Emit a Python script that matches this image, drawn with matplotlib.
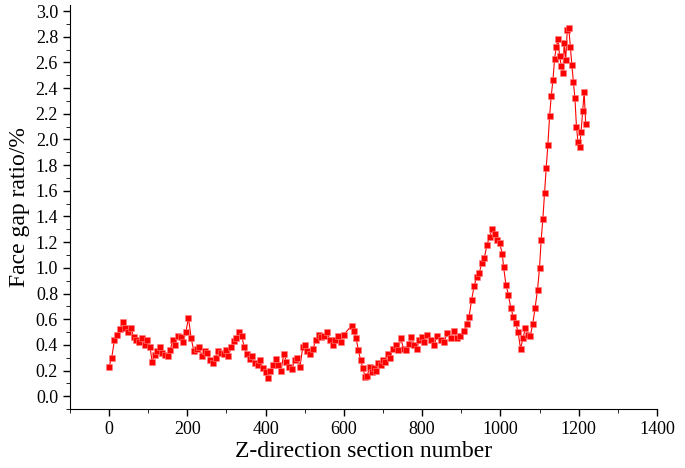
import numpy as np
import matplotlib
matplotlib.use("Agg")
import matplotlib.pyplot as plt
from matplotlib.ticker import MultipleLocator, FormatStrFormatter

# y values grouped by x span (start, end) of each group
groups = [
    ((0, 105), [0.23,0.30,0.44,0.48,0.52,0.58,0.53,0.50,0.53,0.46,0.44,0.42,0.45,0.40,0.44,0.38]),
    ((110, 203), [0.27,0.32,0.35,0.38,0.34,0.32,0.31,0.36,0.44,0.40,0.47,0.46,0.42,0.50,0.61]),
    ((210, 300), [0.45,0.35,0.37,0.38,0.31,0.35,0.34,0.28,0.26,0.30,0.35,0.34,0.33,0.36]),
    ((305, 400), [0.31,0.38,0.43,0.45,0.50,0.47,0.38,0.33,0.29,0.31,0.26,0.24,0.28,0.22,0.19]),
    ((405, 495), [0.14,0.20,0.24,0.29,0.24,0.20,0.33,0.27,0.23,0.21,0.28,0.30,0.23,0.38]),
    ((500, 600), [0.40,0.35,0.33,0.37,0.44,0.48,0.46,0.47,0.50,0.44,0.40,0.44,0.47,0.42,0.48]),
    ((620, 700), [0.55,0.51,0.45,0.36,0.28,0.22,0.15,0.16,0.23,0.19,0.22,0.20,0.26,0.24,0.28]),
    ((705, 800), [0.27,0.33,0.30,0.37,0.40,0.36,0.45,0.37,0.36,0.41,0.46,0.40,0.37,0.44,0.46]),
    ((805, 915), [0.42,0.48,0.44,0.40,0.47,0.44,0.42,0.49,0.45,0.51,0.45,0.47,0.51,0.56]),
    ((920, 1005), [0.62,0.75,0.86,0.93,0.96,1.04,1.08,1.18,1.24,1.30,1.26,1.22,1.19,1.11]),
    ((1008, 1095), [1.01,0.87,0.79,0.69,0.62,0.57,0.50,0.37,0.45,0.53,0.48,0.47,0.56,0.69,0.83]),
    ((1100, 1160), [1.00,1.22,1.38,1.58,1.78,1.96,2.18,2.34,2.46,2.63,2.72,2.78,2.65,2.57,2.52]),
    ((1163, 1218), [2.75,2.62,2.85,2.87,2.72,2.58,2.45,2.32,2.10,1.98,1.94,2.06,2.22,2.37,2.12]),
]
x_vals = np.concatenate([np.linspace(a, b, len(v)) for (a, b), v in groups])
y_vals = np.concatenate([v for _, v in groups])

plt.rcParams["font.family"] = "Liberation Serif"
fig = plt.figure(figsize=(6.85, 4.68), dpi=100)
ax = fig.add_axes([0.102, 0.126, 0.857, 0.864])
ax.plot(x_vals, y_vals, color="#ff0000", lw=0.8, marker="s", ms=4.5,
        mfc="#ff0000", mec="#ff8080", mew=0.4)
ax.set_xlim(-100, 1400)
ax.set_ylim(-0.1, 3.05)
ax.xaxis.set_major_locator(MultipleLocator(200))
ax.xaxis.set_minor_locator(MultipleLocator(100))
ax.yaxis.set_major_locator(MultipleLocator(0.2))
ax.yaxis.set_minor_locator(MultipleLocator(0.1))
ax.yaxis.set_major_formatter(FormatStrFormatter("%.1f"))
for s in ["top", "right"]:
    ax.spines[s].set_visible(False)
ax.tick_params(labelsize=13, length=5, width=1)
ax.tick_params(which="minor", length=3)
ax.set_xlabel("Z-direction section number", fontsize=17, labelpad=2)
ax.set_ylabel("Face gap ratio/%", fontsize=17, labelpad=4)
fig.savefig("out.png", dpi=100)
